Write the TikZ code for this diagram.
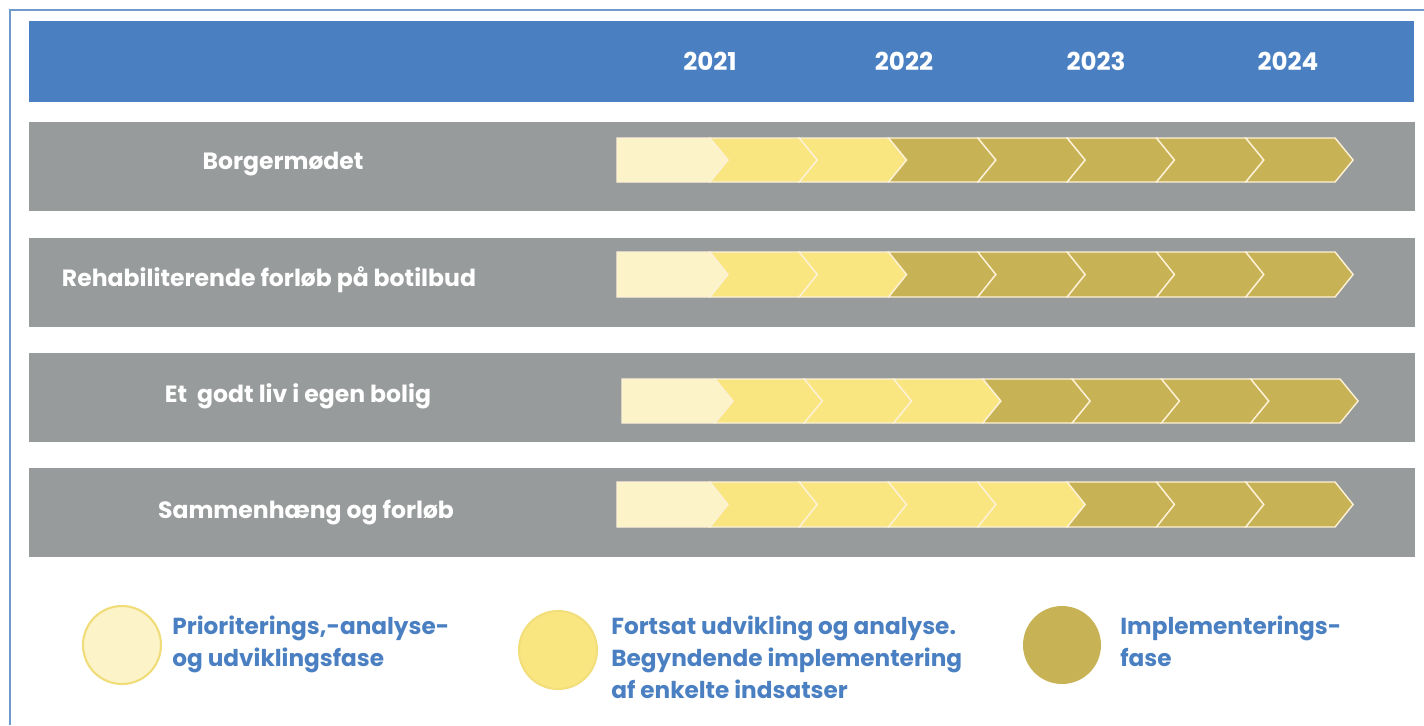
\documentclass[tikz,border=0pt]{standalone}
\usepackage{fontspec}
\setmainfont{Poppins}
\usepackage{tikz}
\usetikzlibrary{positioning}
\definecolor{hdblue}{HTML}{4A80C2}
\definecolor{bandgray}{HTML}{989B9B}
\definecolor{phaseA}{HTML}{FCF4C8}
\definecolor{phaseB}{HTML}{FAE681}
\definecolor{phaseC}{HTML}{C8B256}
\definecolor{seam}{HTML}{FDF1D6}
\tikzset{
    band/.style = {fill=bandgray, minimum width=27.72cm, minimum height=1.78cm, inner sep=0pt},
    rowlabel/.style = {text=white, font=\bfseries\fontsize{13.4}{16}\selectfont},
    year/.style = {text=white, font=\bfseries\fontsize{14}{16}\selectfont},
    legtext/.style = {text=hdblue, align=left, anchor=north west, inner sep=0pt,
                 font=\bfseries\fontsize{13.2}{18.1}\selectfont},
    dot/.style = {circle, minimum size=1.56cm, inner sep=0pt},
}

\begin{document}
\begin{tikzpicture}[x=0.02cm,y=-0.02cm]
\useasboundingbox (0,0) rectangle (1424,725);
\draw[hdblue!80, line width=0.6pt] (10,725) -- (10,10) -- (1424,10);
% header
\node (head) [fill=hdblue, minimum width=27.7cm, minimum height=1.62cm, inner sep=0pt] at (721.5,61.5) {};
\node (y21) [year] at (710,61) {2021};
\node (y22) [year] at (904,61) {2022};
\node (y23) [year] at (1096,61) {2023};
\node (y24) [year] at (1288,61) {2024};
% rows
\node (r1) [band] at (722,166) {};
\node (r2) [band] at (722,282) {};
\node (r3) [band] at (722,397) {};
\node (r4) [band] at (722,512) {};
\node (l1) [rowlabel] at (283,164) {Borgermødet};
\node (l2) [rowlabel] at (269,280) {Rehabiliterende forløb på botilbud};
\node (l3) [rowlabel] at (298,396) {Et\ \ godt liv i egen bolig};
\node (l4) [rowlabel] at (306,512) {Sammenhæng og forløb};
% chevrons: start x / top / bottom / number of middle-phase steps
\foreach \xs/\yt/\yb/\ny in {617/138/182/2, 617/252/297/2, 622/379/423/3, 617/482/527/4}{
  \foreach \i in {0,...,7}{
    \pgfmathsetmacro\tip{\xs+111+89.3*\i}
    \pgfmathsetmacro\back{\tip-89.3}
    \pgfmathsetmacro\ym{(\yt+\yb)/2}
    \ifnum\i=0 \def\col{phaseA}\else\ifnum\i>\ny \def\col{phaseC}\else\def\col{phaseB}\fi\fi
    \ifnum\i=0
      \fill[\col, draw=seam, line width=0.8pt] (\xs,\yt) -- (\tip-18,\yt) -- (\tip,\ym) -- (\tip-18,\yb) -- (\xs,\yb) -- cycle;
    \else
      \fill[\col, draw=seam, line width=0.8pt] (\back-18,\yt) -- (\tip-18,\yt) -- (\tip,\ym) -- (\tip-18,\yb) -- (\back-18,\yb) -- (\back,\ym) -- cycle;
    \fi
  }
}
% legend
\node (d1) [dot, fill=phaseA, draw=phaseB!80!phaseC, line width=1.2pt] at (122,645) {};
\node (d2) [dot, fill=phaseB, draw=phaseB!85!phaseC, line width=1.2pt] at (558,650) {};
\node (d3) [dot, fill=phaseC] at (1062,645) {};
\node (t1) [legtext] at (172,616) {Prioriterings,-analyse-\\og udviklingsfase};
\node (t2) [legtext] at (611,616) {Fortsat udvikling og analyse.\\Begyndende implementering\\af enkelte indsatser};
\node (t3) [legtext] at (1120,616) {Implementerings-\\fase};
\end{tikzpicture}
\end{document}
